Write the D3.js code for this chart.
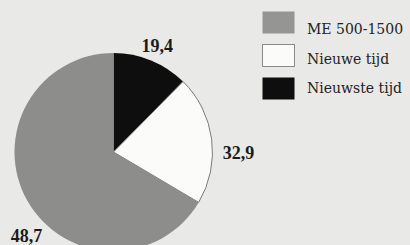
<!DOCTYPE html>
<html>
<head>
<meta charset="utf-8">
<script src="https://cdn.jsdelivr.net/npm/d3@7"></script>
<style>
  html, body { margin: 0; padding: 0; background: #e9e9e7; }
  svg { display: block; }
</style>
</head>
<body>
<script>
// data
const categories = ["Nieuwste tijd", "Nieuwe tijd", "ME 500-1500"];
const labels = ["19,4", "32,9", "48,7"];
// slice sizes as drawn in the picture (share of the circle, %)
const shares = [12.4, 21.1, 66.5];
const legendOrder = ["ME 500-1500", "Nieuwe tijd", "Nieuwste tijd"];

const width = 410, height = 245;
const cx = 113.5, cy = 152, r = 99;

const fill = d3.scaleOrdinal()
  .domain(categories)
  .range(["#0e0e0e", "#fbfbfa", "#8d8d8b"]);

// where the number sits along each slice, and how far out
const labelFrac = [0.5, 0.6, 0.44];
const labelRad = [115, 125, 121];

const svg = d3.select("body").append("svg")
  .attr("width", width)
  .attr("height", height);

const g = svg.append("g").attr("transform", `translate(${cx},${cy})`);

const pie = d3.pie().sort(null).value((d, i) => shares[i]);
const arcs = pie(categories);
const arc = d3.arc().innerRadius(0).outerRadius(r);

g.selectAll("path")
  .data(arcs)
  .enter()
  .append("path")
  .attr("d", arc)
  .attr("fill", d => fill(d.data))
  .attr("stroke", d => d.data === "Nieuwe tijd" ? "#7a7a7a" : "none")
  .attr("stroke-width", 1);

g.selectAll("text")
  .data(arcs)
  .enter()
  .append("text")
  .attr("transform", (d, i) => {
    const a = d.startAngle + labelFrac[i] * (d.endAngle - d.startAngle);
    return `translate(${Math.sin(a) * labelRad[i]},${-Math.cos(a) * labelRad[i]})`;
  })
  .attr("text-anchor", "middle")
  .attr("dy", "0.35em")
  .attr("font-family", "'Liberation Serif', serif")
  .attr("font-weight", "bold")
  .attr("font-size", 18)
  .attr("fill", "#1a1a1a")
  .text((d, i) => labels[i]);

// legend
const boxY = d3.scalePoint().domain(legendOrder).range([11, 77]);
const textY = d3.scalePoint().domain(legendOrder).range([34, 93]);

const lg = svg.append("g");
lg.selectAll("rect")
  .data(legendOrder)
  .enter()
  .append("rect")
  .attr("x", 262.5)
  .attr("y", d => boxY(d) + 0.5)
  .attr("width", 32)
  .attr("height", 22)
  .attr("fill", d => d === "ME 500-1500" ? "#959593" : fill(d))
  .attr("stroke", d => d === "Nieuwe tijd" ? "#8a8a8a" : "none");

lg.selectAll("text")
  .data(legendOrder)
  .enter()
  .append("text")
  .attr("x", 307)
  .attr("y", d => textY(d))
  .attr("font-family", "'DejaVu Serif', serif")
  .attr("font-size", 14)
  .attr("fill", "#222")
  .text(d => d);
</script>
</body>
</html>
